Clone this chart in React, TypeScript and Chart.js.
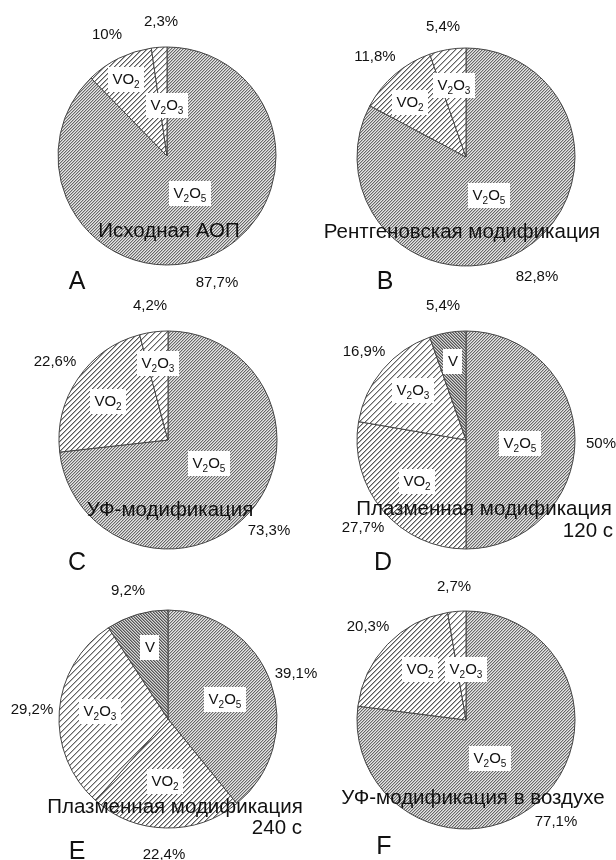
import React, { useEffect, useRef } from "react";
import { Chart, registerables } from "chart.js";
Chart.register(...registerables);

// ---- data ----
const phases3 = ["V2O5", "VO2", "V2O3"];
const phases4 = ["V2O5", "VO2", "V2O3", "V"];
const valuesA = [87.7, 10, 2.3];
const valuesB = [82.8, 11.8, 5.4];
const valuesC = [73.3, 22.6, 4.2];
const valuesD = [50, 27.7, 16.9, 5.4];
const valuesE = [39.1, 22.4, 29.2, 9.2];
const valuesF = [77.1, 20.3, 2.7];
const titles = [
  "Исходная АОП",
  "Рентгеновская модификация",
  "УФ-модификация",
  "Плазменная модификация",
  "Плазменная модификация",
  "УФ-модификация в воздухе",
];
const subtitles = ["", "", "", "120 с", "240 с", ""];
const letters = ["A", "B", "C", "D", "E", "F"];

// ---- layout (positions relative to each pie centre) ----
type P = [number, number];
interface Layout {
  cx: number; cy: number; r: number;
  box: P[]; pct: P[]; title: P; sub?: P; letter: P;
}
const layouts: Layout[] = [
  { cx: 167, cy: 156, r: 109, box: [[23, 37], [-41, -77], [0, -51]], pct: [[50, 127], [-60, -121], [-6, -134]], title: [2, 75], letter: [-90, 126] },
  { cx: 466, cy: 157, r: 109, box: [[23, 38], [-56, -55], [-12, -72]], pct: [[71, 120], [-91, -100], [-23, -130]], title: [-4, 75], letter: [-81, 125] },
  { cx: 168, cy: 440, r: 109, box: [[41, 23], [-60, -39], [-10, -77]], pct: [[101, 91], [-113, -78], [-18, -134]], title: [2, 70], letter: [-91, 123] },
  { cx: 466, cy: 440, r: 109, box: [[54, 3], [-49, 41], [-53, -50], [-13, -79]], pct: [[135, 4], [-103, 88], [-102, -88], [-23, -134]], title: [18, 69], sub: [147, 91], letter: [-83, 123] },
  { cx: 168, cy: 719, r: 109, box: [[57, -20], [-3, 62], [-68, -8], [-18, -72]], pct: [[128, -45], [-4, 136], [-136, -9], [-40, -128]], title: [7, 88], sub: [134, 109], letter: [-91, 133] },
  { cx: 466, cy: 720, r: 109, box: [[24, 38], [-46, -51], [0, -51]], pct: [[90, 102], [-98, -93], [-12, -133]], title: [7, 78], letter: [-82, 127] },
];

const panels = [
  { labels: phases3, values: valuesA },
  { labels: phases3, values: valuesB },
  { labels: phases3, values: valuesC },
  { labels: phases4, values: valuesD },
  { labels: phases4, values: valuesE },
  { labels: phases3, values: valuesF },
];

const FONT = '"Liberation Sans", Arial, sans-serif';
const W = 616, H = 860;

// pixel hatch tile: shades[k] is the grey for pixels at diagonal distance k from the line
function hatch(ctx: CanvasRenderingContext2D, period: number, shades: number[], dir: number) {
  const c = document.createElement("canvas");
  c.width = period; c.height = period;
  const g = c.getContext("2d")!;
  const img = g.createImageData(period, period);
  for (let y = 0; y < period; y++) {
    for (let x = 0; x < period; x++) {
      const k = (((dir > 0 ? x + y : x - y) % period) + period) % period;
      const v = k < shades.length ? shades[k] : 255;
      const o = (y * period + x) * 4;
      img.data[o] = v; img.data[o + 1] = v; img.data[o + 2] = v; img.data[o + 3] = 255;
    }
  }
  g.putImageData(img, 0, 0);
  return ctx.createPattern(c, "repeat")!;
}

function fmtPct(v: number) {
  return String(v).replace(".", ",") + "%";
}

function drawFormula(ctx: CanvasRenderingContext2D, text: string, x: number, y: number) {
  const segs = text.match(/[A-Za-z]+|\d+/g) || [];
  const mainF = `15px ${FONT}`, subF = `10px ${FONT}`;
  let total = 0;
  const widths = segs.map((s) => {
    ctx.font = /\d/.test(s) ? subF : mainF;
    const w = ctx.measureText(s).width;
    total += w;
    return w;
  });
  const bw = total + 9, bh = 25;
  ctx.fillStyle = "#ffffff";
  ctx.fillRect(Math.round(x - bw / 2), Math.round(y - bh / 2), Math.round(bw), bh);
  ctx.fillStyle = "#111111";
  ctx.textAlign = "left";
  ctx.textBaseline = "alphabetic";
  let px = x - total / 2;
  segs.forEach((s, i) => {
    const sub = /\d/.test(s);
    ctx.font = sub ? subF : mainF;
    ctx.fillText(s, px, sub ? y + 9 : y + 5);
    px += widths[i];
  });
}

export default function App() {
  const refs = useRef<(HTMLCanvasElement | null)[]>([]);
  useEffect(() => {
    const charts = panels.map((p, i) => {
      const canvas = refs.current[i]!;
      const ctx = canvas.getContext("2d")!;
      const L = layouts[i];
      const pats: Record<string, CanvasPattern> = {
        V2O5: hatch(ctx, 3, [105, 185, 230], 1),
        VO2: hatch(ctx, 5, [90, 175], 1),
        V2O3: hatch(ctx, 6, [100, 185], 1),
        V: hatch(ctx, 3, [85, 150, 215], -1),
      };
      const half = 120;
      const labelPlugin = {
        id: "labels" + i,
        afterDraw(chart: any) {
          const arc = chart.getDatasetMeta(0).data[0];
          const cx = arc.x, cy = arc.y;
          const c = chart.ctx as CanvasRenderingContext2D;
          c.save();
          p.labels.forEach((lab, k) => {
            drawFormula(c, lab, cx + L.box[k][0], cy + L.box[k][1]);
          });
          c.fillStyle = "#111111";
          c.textAlign = "center";
          c.textBaseline = "middle";
          c.font = `15px ${FONT}`;
          p.values.forEach((v, k) => {
            c.fillText(fmtPct(v), cx + L.pct[k][0], cy + L.pct[k][1]);
          });
          c.font = `20.5px ${FONT}`;
          c.fillText(titles[i], cx + L.title[0], cy + L.title[1]);
          if (subtitles[i] && L.sub) {
            c.textAlign = "right";
            c.fillText(subtitles[i], cx + L.sub[0], cy + L.sub[1]);
          }
          c.textAlign = "center";
          c.font = `25px ${FONT}`;
          c.fillText(letters[i], cx + L.letter[0], cy + L.letter[1]);
          c.restore();
        },
      };
      return new Chart(canvas, {
        type: "pie",
        data: {
          labels: p.labels,
          datasets: [
            {
              data: p.values,
              backgroundColor: p.labels.map((l) => pats[l]),
              borderColor: "#444444",
              borderWidth: 1,
            },
          ],
        },
        options: {
          responsive: false,
          animation: false,
          devicePixelRatio: 1,
          events: [],
          radius: L.r,
          layout: {
            padding: {
              left: L.cx - half,
              right: W - (L.cx + half),
              top: L.cy - half,
              bottom: H - (L.cy + half),
            },
          },
          plugins: { legend: { display: false }, tooltip: { enabled: false } },
        } as any,
        plugins: [labelPlugin],
      });
    });
    return () => charts.forEach((c) => c.destroy());
  }, []);
  return (
    <div style={{ position: "absolute", left: 0, top: 0, width: W, height: H, background: "#ffffff", overflow: "hidden" }}>
      {panels.map((_, i) => (
        <canvas
          key={i}
          ref={(el) => { refs.current[i] = el; }}
          width={W}
          height={H}
          style={{ position: "absolute", left: 0, top: 0, width: W, height: H }}
        />
      ))}
    </div>
  );
}
